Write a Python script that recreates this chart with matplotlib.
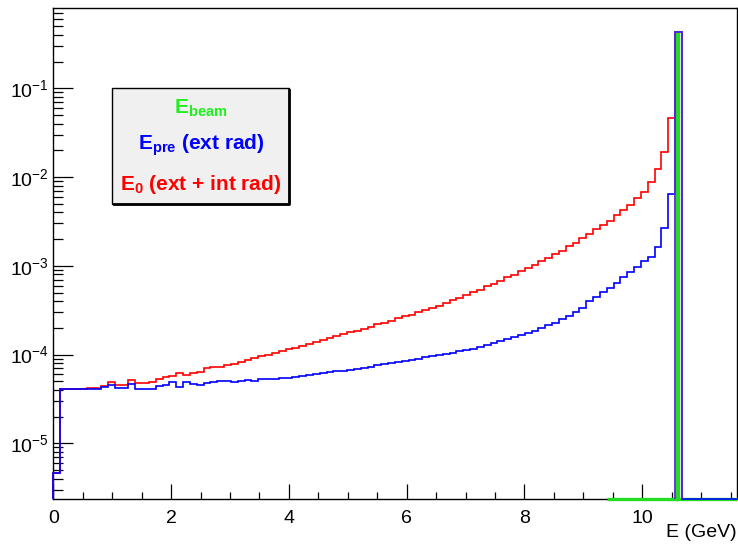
import numpy as np
import matplotlib
matplotlib.use("Agg")
import matplotlib.pyplot as plt
from matplotlib.patches import Rectangle
from matplotlib.lines import Line2D
from matplotlib.ticker import LogLocator, MultipleLocator, NullFormatter

plt.rcParams['font.family'] = ['Liberation Sans', 'DejaVu Sans']
plt.rcParams['mathtext.fontset'] = 'custom'
plt.rcParams['mathtext.rm'] = 'Liberation Sans'
plt.rcParams['mathtext.it'] = 'Liberation Sans:italic'
plt.rcParams['mathtext.bf'] = 'Liberation Sans:bold'

# histogram binning: 100 bins from 0 to 11.6 GeV
e_min, e_max, n_bins = 0.0, 11.6, 100

# E0 (ext + int rad), bin contents
red_counts = [
    4.67e-6, 4.08e-5, 4.10e-5, 4.10e-5, 4.12e-5, 4.15e-5, 4.20e-5, 4.43e-5, 4.87e-5, 4.54e-5,
    4.54e-5, 5.13e-5, 4.74e-5, 4.74e-5, 4.94e-5, 5.26e-5, 5.54e-5, 5.78e-5, 6.15e-5, 5.89e-5,
    6.15e-5, 6.31e-5, 7.00e-5, 7.18e-5, 7.29e-5, 7.62e-5, 7.83e-5, 8.32e-5, 8.71e-5, 9.12e-5,
    9.55e-5, 1.00e-4, 1.05e-4, 1.10e-4, 1.15e-4, 1.20e-4, 1.26e-4, 1.32e-4, 1.38e-4, 1.45e-4,
    1.55e-4, 1.62e-4, 1.70e-4, 1.78e-4, 1.86e-4, 1.95e-4, 2.04e-4, 2.19e-4, 2.29e-4, 2.40e-4,
    2.57e-4, 2.69e-4, 2.82e-4, 3.02e-4, 3.16e-4, 3.39e-4, 3.55e-4, 3.80e-4, 4.07e-4, 4.37e-4,
    4.68e-4, 5.01e-4, 5.37e-4, 5.89e-4, 6.31e-4, 6.76e-4, 7.41e-4, 7.94e-4, 8.71e-4, 9.55e-4,
    1.02e-3, 1.12e-3, 1.23e-3, 1.35e-3, 1.48e-3, 1.66e-3, 1.82e-3, 2.04e-3, 2.29e-3, 2.57e-3,
    2.88e-3, 3.24e-3, 3.72e-3, 4.27e-3, 4.90e-3, 5.75e-3, 6.84e-3, 8.87e-3, 1.22e-2, 1.93e-2,
    4.59e-2, 0.428, 0, 0, 0, 0, 0, 0, 0, 0,
]

# Epre (ext rad)
blue_counts = [
    4.67e-6, 4.05e-5, 4.05e-5, 4.07e-5, 4.07e-5, 4.10e-5, 4.12e-5, 4.35e-5, 4.54e-5, 4.17e-5,
    4.17e-5, 4.66e-5, 4.09e-5, 4.09e-5, 4.09e-5, 4.46e-5, 4.54e-5, 4.87e-5, 4.35e-5, 4.87e-5,
    4.62e-5, 4.54e-5, 4.74e-5, 4.87e-5, 5.04e-5, 5.08e-5, 4.94e-5, 5.04e-5, 5.13e-5, 5.01e-5,
    5.25e-5, 5.25e-5, 5.37e-5, 5.50e-5, 5.50e-5, 5.62e-5, 5.75e-5, 5.89e-5, 6.03e-5, 6.17e-5,
    6.31e-5, 6.46e-5, 6.61e-5, 6.76e-5, 6.92e-5, 7.08e-5, 7.24e-5, 7.59e-5, 7.76e-5, 7.94e-5,
    8.32e-5, 8.51e-5, 8.71e-5, 8.91e-5, 9.33e-5, 9.55e-5, 9.77e-5, 1.02e-4, 1.05e-4, 1.10e-4,
    1.12e-4, 1.17e-4, 1.23e-4, 1.29e-4, 1.35e-4, 1.41e-4, 1.48e-4, 1.58e-4, 1.66e-4, 1.74e-4,
    1.86e-4, 2.00e-4, 2.14e-4, 2.29e-4, 2.51e-4, 2.75e-4, 3.02e-4, 3.39e-4, 3.98e-4, 4.47e-4,
    5.01e-4, 5.62e-4, 6.46e-4, 7.41e-4, 8.51e-4, 9.77e-4, 1.12e-3, 1.26e-3, 1.64e-3, 2.65e-3,
    6.44e-3, 0.428, 0, 0, 0, 0, 0, 0, 0, 0,
]

# Ebeam: a single narrow bin at 10.6 GeV
green_edges = [9.4, 10.59, 10.61, 11.6]
green_counts = [0, 0.43, 0]

y_lo, y_hi = 2.34e-6, 0.797


def draw():
    fig = plt.figure(figsize=(7.38, 5.44), dpi=100)
    ax = fig.add_axes([0.0722, 0.0822, 0.9258, 0.9025])

    edges = np.linspace(e_min, e_max, n_bins + 1)
    # empty bins are drawn on the bottom of the frame, like ROOT does on log scale
    red = np.clip(red_counts, y_lo, None)
    blue = np.clip(blue_counts, y_lo, None)
    green = np.clip(green_counts, y_lo, None)

    ax.stairs(red, edges, baseline=y_lo, color='#ff0000', lw=1.2, clip_on=False, zorder=3)
    ax.stairs(green, green_edges, baseline=y_lo, color='#22dd22', lw=2.4, clip_on=False, zorder=4)
    ax.stairs(blue, edges, baseline=y_lo, color='#0000ff', lw=1.2, clip_on=False, zorder=5)
    # red and blue share the peak bin outline, ROOT blends it to purple
    ax.stairs(blue[91:92], edges[91:93], baseline=y_lo, color='#5a2ad6', lw=1.3,
              clip_on=False, zorder=6)

    ax.set_yscale('log')
    ax.set_xlim(e_min, e_max)
    ax.set_ylim(y_lo, y_hi)

    ax.xaxis.set_major_locator(MultipleLocator(2))
    ax.xaxis.set_minor_locator(MultipleLocator(0.5))
    ax.yaxis.set_major_locator(LogLocator(base=10, numticks=20))
    ax.yaxis.set_minor_locator(LogLocator(base=10, subs=np.arange(2, 10), numticks=20))
    ax.yaxis.set_minor_formatter(NullFormatter())

    ax.tick_params(axis='x', which='major', direction='in', length=10.5, width=0.9, labelsize=14, pad=8)
    ax.tick_params(axis='x', which='minor', direction='in', length=5.2, width=0.9)
    ax.tick_params(axis='y', which='major', direction='in', length=14.5, width=0.9, labelsize=14, pad=3)
    ax.tick_params(axis='y', which='minor', direction='in', length=7.2, width=0.9)
    for sp in ax.spines.values():
        sp.set_linewidth(1.0)

    fig.text(0.998, 0.012, 'E (GeV)', ha='right', va='baseline', fontsize=14)

    # legend pave with a thin shadow on the right and bottom
    x0, y0, w, h = 0.1522, 0.625, 0.2398, 0.2127
    box = Rectangle((x0, y0), w, h, transform=fig.transFigure,
                    facecolor='#f0f0f0', edgecolor='black', lw=1.0, zorder=6)
    fig.patches.append(box)
    fig.lines.append(Line2D([x0 + 0.002, x0 + w, x0 + w], [y0, y0, y0 + h - 0.003],
                            transform=fig.transFigure, color='black', lw=2.0, zorder=7))
    cx = x0 + w / 2
    fig.text(cx, 0.7917, r'$\mathbf{E_{beam}}$', color='#22ee22', fontsize=15,
             fontweight='bold', ha='center', va='baseline', zorder=8)
    fig.text(cx, 0.7243, r'$\mathbf{E_{pre}}$ (ext rad)', color='#0000ff', fontsize=15,
             fontweight='bold', ha='center', va='baseline', zorder=8)
    fig.text(cx, 0.6507, r'$\mathbf{E_{0}}$ (ext + int rad)', color='#ff0000', fontsize=15,
             fontweight='bold', ha='center', va='baseline', zorder=8)

    fig.savefig('out.png', dpi=100)


if __name__ == '__main__':
    draw()
